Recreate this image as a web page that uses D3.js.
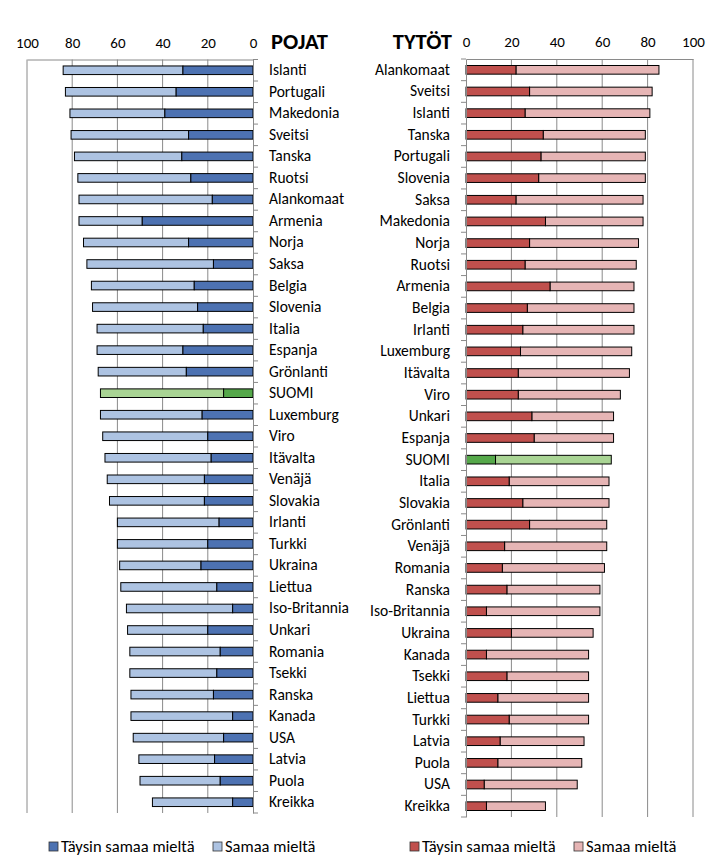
<!DOCTYPE html>
<html><head><meta charset="utf-8">
<script src="https://cdn.jsdelivr.net/npm/d3@7/dist/d3.min.js"></script>
<style>
body{margin:0;background:#fff;}
text{font-family:Carlito, Lato, "Open Sans", sans-serif;}
</style></head>
<body><svg id="c" width="720" height="867"></svg>
<script>
const boysCountries = ["Islanti","Portugali","Makedonia","Sveitsi","Tanska","Ruotsi","Alankomaat","Armenia","Norja","Saksa","Belgia","Slovenia","Italia","Espanja","Grönlanti","SUOMI","Luxemburg","Viro","Itävalta","Venäjä","Slovakia","Irlanti","Turkki","Ukraina","Liettua","Iso-Britannia","Unkari","Romania","Tsekki","Ranska","Kanada","USA","Latvia","Puola","Kreikka"];
const boysStrong = [31,34,39,28.5,31.5,27.5,18,49,28.5,17.5,26,24.5,22,31,29.5,13,22.5,20,18.5,21.5,21.5,15,20,23,16,9,20,14.5,16,17.5,9,13,17,14.5,9];
const boysTotal = [84,83,81,80.5,79,77.5,77,77,75,73.5,71.5,71,69,69,68.5,67.5,67.5,66.5,65.5,64.5,63.5,60,60,59,58.5,56,55.5,54.5,54.5,54,54,53,50.5,50,44.5];

const girlsCountries = ["Alankomaat","Sveitsi","Islanti","Tanska","Portugali","Slovenia","Saksa","Makedonia","Norja","Ruotsi","Armenia","Belgia","Irlanti","Luxemburg","Itävalta","Viro","Unkari","Espanja","SUOMI","Italia","Slovakia","Grönlanti","Venäjä","Romania","Ranska","Iso-Britannia","Ukraina","Kanada","Tsekki","Liettua","Turkki","Latvia","Puola","USA","Kreikka"];
const girlsStrong = [22,28,26,34,33,32,22,35,28,26,37,27,25,24,23,23,29,30,13,19,25,28,17,16,18,9,20,9,18,14,19,15,14,8,9];
const girlsTotal = [85,82,81,79,79,79,78,78,76,75,74,74,74,73,72,68,65,65,64,63,63,62,62,61,59,59,56,54,54,54,54,52,51,49,35];

const ticks = [0,20,40,60,80,100];
const legendLabels = ["Täysin samaa mieltä","Samaa mieltä"];

const colors = {
  boys: ["#4d72b2","#adc3e2"],
  girls: ["#c0504d","#e6b5b5"],
  fin: ["#55a84a","#a9d494"]
};

const svg = d3.select("#c");
const grid = "#8a8a8a";

function panel(opts){
  const {cats, strong, total, x, y0, y1, side, pal} = opts;
  const y = d3.scaleBand().domain(cats).range([y0,y1]).paddingInner(0.6).paddingOuter(0.3);
  const g = svg.append("g");
  g.selectAll(".grid").data(ticks.filter(t=>t>0)).join("line")
    .attr("x1",d=>x(d)).attr("x2",d=>x(d)).attr("y1",y0).attr("y2",y1)
    .attr("stroke",grid).attr("stroke-width",1);
  const ax = d3.axisTop(x).tickValues(ticks).tickSize(0).tickPadding(12).tickFormat(d3.format("d"));
  const axg = g.append("g").attr("transform",`translate(0,${y0})`).call(ax);
  axg.select(".domain").attr("stroke",grid);
  axg.selectAll("text").attr("font-size",15).attr("fill","#000").style("font-family","Carlito, Lato, sans-serif");
  const rows = cats.map((c,i)=>({c, s:strong[i], t:total[i]}));
  const rg = g.selectAll(".row").data(rows).join("g");
  const pc = d=> d.c==="SUOMI" ? colors.fin : pal;
  rg.append("rect")
    .attr("x",d=>Math.min(x(d.s),x(d.t))).attr("width",d=>Math.abs(x(d.t)-x(d.s)))
    .attr("y",d=>y(d.c)).attr("height",y.bandwidth())
    .attr("fill",d=>pc(d)[1]).attr("stroke","#000").attr("stroke-width",1);
  rg.append("rect")
    .attr("x",d=>Math.min(x(0),x(d.s))).attr("width",d=>Math.abs(x(d.s)-x(0)))
    .attr("y",d=>y(d.c)).attr("height",y.bandwidth())
    .attr("fill",d=>pc(d)[0]).attr("stroke","#000").attr("stroke-width",1);
  const ca = side==="left" ? d3.axisRight(y) : d3.axisLeft(y);
  const cg = g.append("g").attr("transform",`translate(${x(0)},0)`).call(ca.tickSize(0).tickPadding(16));
  cg.select(".domain").attr("stroke",grid);
  cg.selectAll("text").attr("font-size",15.5).attr("fill","#000").style("font-family","Carlito, Lato, sans-serif");
  const bounds = d3.range(cats.length+1).map(i=> y0 + i*(y1-y0)/cats.length);
  g.selectAll(".tk").data(bounds).join("line")
    .attr("x1",x(0)).attr("x2",x(0)+(side==="left"?5:-5))
    .attr("y1",d=>d).attr("y2",d=>d).attr("stroke",grid);
  return g;
}

const xL = d3.scaleLinear().domain([0,100]).range([253,27]);
const xR = d3.scaleLinear().domain([0,100]).range([466,693]);
panel({cats:boysCountries,strong:boysStrong,total:boysTotal,x:xL,y0:59.5,y1:813,side:"left",pal:colors.boys});
panel({cats:girlsCountries,strong:girlsStrong,total:girlsTotal,x:xR,y0:59,y1:817,side:"right",pal:colors.girls});

svg.append("text").attr("x",271).attr("y",49).attr("font-size",22.5).attr("font-weight","bold").text("POJAT");
svg.append("text").attr("x",452).attr("y",49).attr("text-anchor","end").attr("font-size",22.5).attr("font-weight","bold").text("TYTÖT");

function legend(x0, x1, pal){
  const xs=[x0,x1];
  legendLabels.forEach((l,i)=>{
    svg.append("rect").attr("x",xs[i]).attr("y",842).attr("width",9).attr("height",9)
      .attr("fill",pal[i]).attr("stroke","#333").attr("stroke-width",0.8);
    svg.append("text").attr("x",xs[i]+12).attr("y",852).attr("font-size",16.5).text(l);
  });
}
legend(49,213,colors.boys);
legend(410,574,colors.girls);
</script></body></html>
